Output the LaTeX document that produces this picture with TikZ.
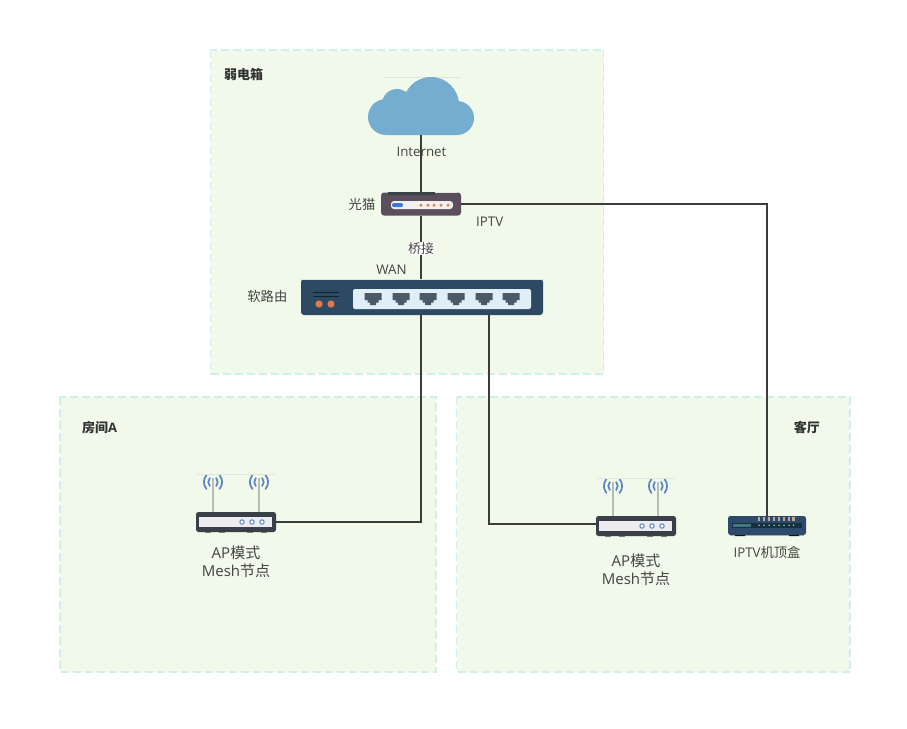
\documentclass[tikz,border=0pt]{standalone}
\usepackage{fontspec}
\setmainfont{Open Sans}
\newfontfamily\cjk{Noto Sans CJK SC}
\newcommand{\zh}[1]{{\cjk #1}}
\usetikzlibrary{calc}
\definecolor{zonefill}{HTML}{F0F9EA}
\definecolor{zoneedge}{HTML}{CFF0E8}
\definecolor{wire}{HTML}{3C3C3C}
\definecolor{txt}{HTML}{444444}
\definecolor{cloudblue}{HTML}{74ADCF}
\definecolor{modembody}{HTML}{5A4F5B}
\definecolor{navy}{HTML}{2E4A62}
\definecolor{panelblue}{HTML}{DFEEF7}
\definecolor{portgrey}{HTML}{4B5A68}
\definecolor{orangedot}{HTML}{DF6B35}
\definecolor{apbody}{HTML}{3A4048}
\definecolor{appanel}{HTML}{ECECF0}
\definecolor{antgrey}{HTML}{B7BEB7}
\definecolor{wifi}{HTML}{5A84C4}
\definecolor{faint}{HTML}{DDE8DA}
\definecolor{stbbody}{HTML}{2E4A6A}
\definecolor{stbdark}{HTML}{15303F}
\definecolor{stbteal}{HTML}{3F7A80}
\definecolor{pill}{HTML}{3B78D0}
\tikzset{
  zone/.style={draw=zoneedge,fill=zonefill,line width=1.3pt,dash pattern=on 8pt off 4pt},
  wirepath/.style={draw=wire,line width=1.6pt},
  lbl/.style={text=txt,font=\fontsize{13.3}{18}\selectfont,inner sep=0pt,align=center},
  aplbl/.style={text=txt,font=\fontsize{15}{18}\selectfont,inner sep=0pt,align=center},
  zonelbl/.style={text=black!80,font=\fontsize{13}{16}\selectfont\bfseries,inner sep=0pt},
  device/.style={inner sep=0pt,outer sep=0pt,minimum width=#1},
  apnode/.style={device=80pt,minimum height=20pt,fill=apbody,rounded corners=2.5pt},
  pics/wifiant/.style={code={
    \draw[antgrey,line width=1.6pt] (0,-4) -- (0,30);
    \draw[wifi,line width=1.7pt,line cap=round]
      (-3.2,-4) .. controls (-5.2,-1.5) and (-5.2,1.5) .. (-3.2,4)
      (3.2,-4) .. controls (5.2,-1.5) and (5.2,1.5) .. (3.2,4)
      (-6.5,-7) .. controls (-10,-2.5) and (-10,2.5) .. (-6.5,7)
      (6.5,-7) .. controls (10,-2.5) and (10,2.5) .. (6.5,7);
  }},
  pics/apface/.style={code={
    \fill[appanel] (-37,-5) rectangle (36,5);
    \foreach \dx in {6,16,26}{\draw[wifi,fill=white,line width=1pt] (\dx,0) circle (2.2pt);}
    \foreach \dx in {-28,-14,14,28}{\fill[apbody!70] (\dx-3,10) rectangle (\dx+3,10.8);}
  }},
  pics/lanport/.style={code={
    \fill[portgrey] (-8.5,0) -- (8.5,0) -- (8.5,7) -- (5.5,7) -- (5.5,9.5) -- (3,9.5) -- (3,12) -- (-3,12) -- (-3,9.5) -- (-5.5,9.5) -- (-5.5,7) -- (-8.5,7) -- cycle;
  }}
}
\begin{document}
\begin{tikzpicture}[x=1pt,y=-1pt]
\useasboundingbox (0,0) rectangle (907,728);
\fill[white] (0,0) rectangle (907,728);
% zones
\path[zone] (210.5,50) rectangle (603.5,374);
\path[zone] (60,397) rectangle (436,672);
\path[zone] (456.5,397) rectangle (850,672);
\node[zonelbl,anchor=west] (zbox) at (224,74.5) {\zh{弱电箱}};
\node[zonelbl,anchor=west] (zroom) at (82,427.5) {\zh{房间}A};
\node[zonelbl,anchor=east] (zliving) at (820,427.5) {\zh{客厅}};
% cloud
\draw[faint,line width=.6pt] (383,77) -- (461,77);
\fill[cloudblue] (431,105) circle (28pt) (397,104) circle (15pt) (386,117) circle (18pt) (457,118) circle (17pt) (386,105) rectangle (457,135);
\node[inner sep=0pt,minimum width=106pt,minimum height=58pt] (cloud) at (421,106) {};
% modem
\node[device=80pt,minimum height=23pt,fill=modembody,rounded corners=3pt] (modem) at (421,204) {};
\fill[apbody] (388,192) rectangle (435,194.5);
\draw[faint,line width=.6pt] (435,192.5) -- (457,192.5);
\fill[white!94!black,rounded corners=3pt] (391,201) rectangle (453,209);
\fill[pill,rounded corners=2pt] (392,203) rectangle (403,207.2);
\foreach \x in {421,428,434,441,448}{\fill[orangedot!85!white] (\x,205.2) circle (1.7pt);}
% router
\node[device=242pt,minimum height=36pt,fill=navy,rounded corners=3pt] (router) at (422,297) {};
\draw[faint,line width=.6pt] (301,278.8) -- (543,278.8);
\fill[panelblue,rounded corners=2pt] (353,289) rectangle (531,309);
\draw[black!55!navy,line width=.7pt] (313,292) -- (339,292) (313,296.5) -- (339,296.5);
\fill[orangedot!90!white] (319,304) circle (3.6pt) (331,304) circle (3.6pt);
\foreach \x in {373,401,428,456,484,511}{\pic at (\x,293) {lanport};}
\coordinate (routerB) at (489,315);
% AP left
\pic at (213,482) {wifiant};
\pic at (259,482) {wifiant};
\draw[faint,line width=.6pt] (197,474.5) -- (275,474.5);
\node[apnode] (apa) at (236,522) {};
\pic at (236,522) {apface};
% AP right
\pic at (613,486) {wifiant};
\pic at (658,486) {wifiant};
\draw[faint,line width=.6pt] (597,478.5) -- (675,478.5);
\node[apnode] (apb) at (636,526) {};
\pic at (636,526) {apface};
\coordinate (apbIn) at (596,524);
% STB
\node[device=78pt,minimum height=19pt,fill=stbbody,rounded corners=2.5pt] (stb) at (767,525.5) {};
\fill[stbbody!45!white] (730,535) rectangle (804,536.2);
\fill[black!75!stbbody] (735,535) rectangle (745,536) (789,535) rectangle (799,536);
\fill[stbdark] (732,523) rectangle (802,527.5);
\fill[stbteal] (733,524) rectangle (751,526.5);
\foreach \x in {759,764,769,774,779,784,789,793.5}{
  \fill[antgrey!75!orangedot] (\x-1.1,517) rectangle (\x+1.1,520.5);
  \fill[white!70!stbbody] (\x,525.2) circle (.8pt);
}
% connectors
\draw[wirepath] (cloud.south) -- (modem.north);
\draw[wirepath] (modem.south) -- (modem.south |- router.north);
\draw[wirepath] (modem.east) -| (stb.north);
\draw[wirepath] (router.south -| modem.south) |- (apa.east);
\draw[wirepath] (routerB) |- (apbIn);
% labels
\node[lbl] (lnet) at (421.5,151.5) {Internet};
\node[lbl,anchor=east] (lmodem) at (375.5,204.7) {\zh{光猫}};
\node[lbl,anchor=west] (liptv) at (476,222) {IPTV};
\node[lbl,fill=white,font=\fontsize{13}{14}\selectfont,inner sep=.5pt] (lbridge) at (421,248.5) {\zh{桥接}};
\node[lbl] (lwan) at (391.5,270) {WAN};
\node[lbl,anchor=east] (lrouter) at (287.5,296.5) {\zh{软路由}};
\node[aplbl] (lapa) at (236,562) {AP\zh{模式}\\Mesh\zh{节点}};
\node[aplbl] (lapb) at (636,570) {AP\zh{模式}\\Mesh\zh{节点}};
\node[lbl] (lstb) at (767,552) {IPTV\zh{机顶盒}};
\end{tikzpicture}
\end{document}
